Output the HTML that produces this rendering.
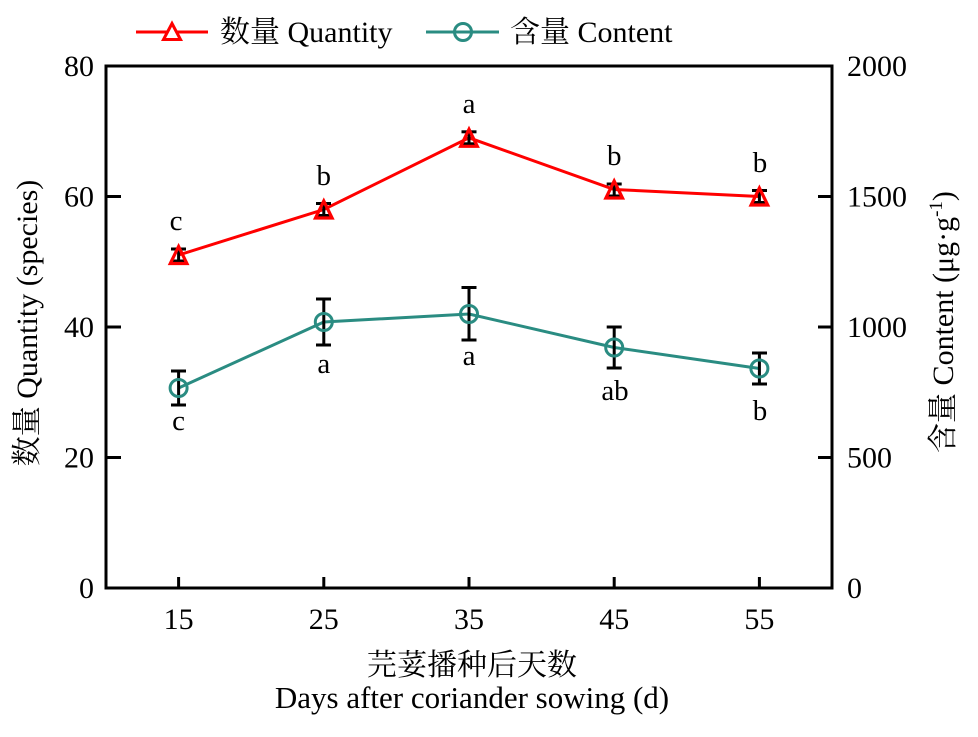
<!DOCTYPE html>
<html>
<head>
<meta charset="utf-8">
<style>
html,body{margin:0;padding:0;background:#fff;}
svg{display:block;}
text{font-family:"Liberation Serif","Noto Serif CJK SC",serif;fill:#000;}
</style>
</head>
<body>
<svg width="978" height="737" viewBox="0 0 978 737" xmlns="http://www.w3.org/2000/svg">
  <!-- Legend -->
  <line x1="136" y1="32" x2="208" y2="32" stroke="#ff0000" stroke-width="3"/>
  <polygon points="172,23.5 163.5,39.5 180.5,39.5" fill="#fff" stroke="#ff0000" stroke-width="3"/>
  <text x="220" y="42" font-size="30">数量 Quantity</text>
  <line x1="426" y1="32" x2="499" y2="32" stroke="#2a8c82" stroke-width="3"/>
  <circle cx="463" cy="32" r="8.5" fill="none" stroke="#2a8c82" stroke-width="3"/>
  <text x="510" y="42" font-size="30">含量 Content</text>

  <!-- Frame -->
  <rect x="106" y="66" width="726" height="522" fill="none" stroke="#000" stroke-width="3"/>

  <!-- Left ticks -->
  <g stroke="#000" stroke-width="3">
    <line x1="106" y1="588" x2="121" y2="588"/>
    <line x1="106" y1="457.5" x2="121" y2="457.5"/>
    <line x1="106" y1="327" x2="121" y2="327"/>
    <line x1="106" y1="196.5" x2="121" y2="196.5"/>
    <line x1="106" y1="66" x2="121" y2="66"/>
    <!-- right ticks -->
    <line x1="832" y1="588" x2="818" y2="588"/>
    <line x1="832" y1="457.5" x2="818" y2="457.5"/>
    <line x1="832" y1="327" x2="818" y2="327"/>
    <line x1="832" y1="196.5" x2="818" y2="196.5"/>
    <line x1="832" y1="66" x2="818" y2="66"/>
    <!-- bottom ticks -->
    <line x1="178.6" y1="588" x2="178.6" y2="577"/>
    <line x1="323.8" y1="588" x2="323.8" y2="577"/>
    <line x1="469" y1="588" x2="469" y2="577"/>
    <line x1="614.2" y1="588" x2="614.2" y2="577"/>
    <line x1="759.4" y1="588" x2="759.4" y2="577"/>
  </g>

  <!-- Left tick labels -->
  <g font-size="30" text-anchor="end">
    <text x="94" y="598">0</text>
    <text x="94" y="467.5">20</text>
    <text x="94" y="337">40</text>
    <text x="94" y="206.5">60</text>
    <text x="94" y="76">80</text>
  </g>
  <!-- Right tick labels -->
  <g font-size="30" text-anchor="start">
    <text x="847" y="598">0</text>
    <text x="847" y="467.5">500</text>
    <text x="847" y="337">1000</text>
    <text x="847" y="206.5">1500</text>
    <text x="847" y="76">2000</text>
  </g>
  <!-- Bottom tick labels -->
  <g font-size="30" text-anchor="middle">
    <text x="178.6" y="629">15</text>
    <text x="323.8" y="629">25</text>
    <text x="469" y="629">35</text>
    <text x="614.2" y="629">45</text>
    <text x="759.4" y="629">55</text>
  </g>

  <!-- Axis titles -->
  <text x="472" y="675" font-size="30" text-anchor="middle">芫荽播种后天数</text>
  <text x="472" y="708" font-size="31" text-anchor="middle">Days after coriander sowing (d)</text>
  <text transform="translate(37,323) rotate(-90)" font-size="30" text-anchor="middle">数量 Quantity (species)</text>
  <text transform="translate(953,322) rotate(-90)" font-size="30" text-anchor="middle">含量 Content (μg·g<tspan font-size="19" dy="-11">-1</tspan><tspan dy="11">)</tspan></text>

  <!-- Teal series line -->
  <polyline points="178.6,388 323.8,322 469,314 614.2,347.5 759.4,368.5" fill="none" stroke="#2a8c82" stroke-width="3"/>
  <!-- Red series line -->
  <polyline points="178.6,255 323.8,209.5 469,137.8 614.2,189.5 759.4,196.5" fill="none" stroke="#ff0000" stroke-width="3"/>

  <!-- Error bars -->
  <g stroke="#000" stroke-width="3">
    <!-- red -->
    <line x1="178.6" y1="249" x2="178.6" y2="261"/><line x1="171" y1="249" x2="186" y2="249"/><line x1="171" y1="261" x2="186" y2="261"/>
    <line x1="323.8" y1="203.5" x2="323.8" y2="215.5"/><line x1="316" y1="203.5" x2="331" y2="203.5"/><line x1="316" y1="215.5" x2="331" y2="215.5"/>
    <line x1="469" y1="131.8" x2="469" y2="143.8"/><line x1="461.5" y1="131.8" x2="476.5" y2="131.8"/><line x1="461.5" y1="143.8" x2="476.5" y2="143.8"/>
    <line x1="614.2" y1="184" x2="614.2" y2="196"/><line x1="606.7" y1="184" x2="621.7" y2="184"/><line x1="606.7" y1="196" x2="621.7" y2="196"/>
    <line x1="759.4" y1="190.5" x2="759.4" y2="202.5"/><line x1="752" y1="190.5" x2="767" y2="190.5"/><line x1="752" y1="202.5" x2="767" y2="202.5"/>
    <!-- teal -->
    <line x1="178.6" y1="371" x2="178.6" y2="405"/><line x1="171" y1="371" x2="186" y2="371"/><line x1="171" y1="405" x2="186" y2="405"/>
    <line x1="323.8" y1="299" x2="323.8" y2="345"/><line x1="316" y1="299" x2="331" y2="299"/><line x1="316" y1="345" x2="331" y2="345"/>
    <line x1="469" y1="287.5" x2="469" y2="340"/><line x1="461.5" y1="287.5" x2="476.5" y2="287.5"/><line x1="461.5" y1="340" x2="476.5" y2="340"/>
    <line x1="614.2" y1="327" x2="614.2" y2="368"/><line x1="606.7" y1="327" x2="621.7" y2="327"/><line x1="606.7" y1="368" x2="621.7" y2="368"/>
    <line x1="759.4" y1="353" x2="759.4" y2="384"/><line x1="752" y1="353" x2="767" y2="353"/><line x1="752" y1="384" x2="767" y2="384"/>
  </g>

  <!-- Red triangle markers -->
  <g fill="none" stroke="#ff0000" stroke-width="3.2" stroke-linejoin="miter">
    <polygon points="178.6,246.5 170.3,263.5 186.9,263.5"/>
    <polygon points="323.8,201 315.5,218 332.1,218"/>
    <polygon points="469,129.3 460.7,146.3 477.3,146.3"/>
    <polygon points="614.2,181 605.9,198 622.5,198"/>
    <polygon points="759.4,188 751.1,205 767.7,205"/>
  </g>
  <!-- Teal circle markers -->
  <g fill="none" stroke="#2a8c82" stroke-width="3">
    <circle cx="178.6" cy="388" r="8.5"/>
    <circle cx="323.8" cy="322" r="8.5"/>
    <circle cx="469" cy="314" r="8.5"/>
    <circle cx="614.2" cy="347.5" r="8.5"/>
    <circle cx="759.4" cy="368.5" r="8.5"/>
  </g>

  <!-- Significance letters -->
  <g font-size="29" text-anchor="middle">
    <text x="176" y="230">c</text>
    <text x="323.8" y="185">b</text>
    <text x="469" y="113">a</text>
    <text x="614.2" y="165">b</text>
    <text x="760" y="172">b</text>
    <text x="178.6" y="430">c</text>
    <text x="323.8" y="373">a</text>
    <text x="469" y="365">a</text>
    <text x="615" y="400">ab</text>
    <text x="760" y="420">b</text>
  </g>
</svg>
</body>
</html>
